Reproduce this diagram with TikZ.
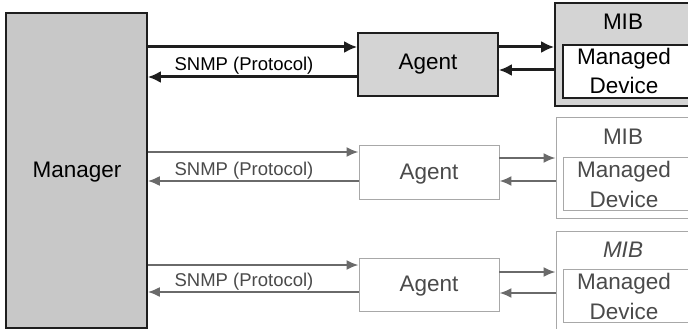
\documentclass[tikz,border=0pt]{standalone}
\usepackage{fontspec}
\setmainfont{Liberation Sans}
\usetikzlibrary{arrows.meta}
\definecolor{mgrfill}{HTML}{C8C8C8}
\definecolor{boxfill}{HTML}{D4D4D4}
\definecolor{darkline}{HTML}{1E1E1E}
\definecolor{fadeline}{HTML}{A8A8A8}
\definecolor{fadearrow}{HTML}{6A6A6A}
\definecolor{fadetext}{HTML}{4A4A4A}
\tikzset{
  big/.style={font=\fontsize{22.5}{24}\selectfont},
  small/.style={font=\fontsize{18.5}{20}\selectfont},
  boxA/.style={draw=darkline, line width=1.6pt, fill=boxfill, inner sep=0pt},
  boxB/.style={draw=fadeline, line width=0.9pt, fill=white, inner sep=0pt, text=fadetext},
  arrA/.style={draw=darkline, line width=3pt, -{Latex[length=13pt,width=12pt]}},
  arrB/.style={draw=fadearrow, line width=2pt, -{Latex[length=12pt,width=10pt]}},
  lbl/.style={inner sep=0pt, anchor=center},
}
\begin{document}
\begin{tikzpicture}[x=1pt,y=-1pt]
\useasboundingbox (0,0) rectangle (688,329);
\begin{scope}
\clip (0,0) rectangle (688,329);
% Manager
\node[boxA, fill=mgrfill, minimum width=141pt, minimum height=315pt] (mgr) at (76.5,170.5) {};
\node[big, lbl] (mgrt) at (77,172) {Manager};
% Row 1
\node[boxA, minimum width=140pt, minimum height=63pt] (ag1) at (428,64.5) {};
\node[big, lbl] (ag1t) at (428,64) {Agent};
\node[boxA, minimum width=140pt, minimum height=103pt] (mib1) at (625,54.5) {};
\node[boxA, fill=white, minimum width=132pt, minimum height=53pt] (dev1) at (629,71.5) {};
\node[big, lbl] (mib1t) at (623,22) {MIB};
\node[big, lbl] (dev1a) at (624,59) {Managed};
\node[big, lbl] (dev1b) at (624,85) {Device};
\draw[arrA] (mgr.east |- 0,47) -- (ag1.west |- 0,47);
\draw[arrA] (ag1.west |- 0,77) -- (mgr.east |- 0,77);
\node[small, lbl] (snmp1) at (244,66) {SNMP (Protocol)};
\draw[arrA] (ag1.east |- 0,47) -- (mib1.west |- 0,47);
\draw[arrA] (mib1.west |- 0,70) -- (ag1.east |- 0,70);
% Row 2
\node[boxB, minimum width=140pt, minimum height=54pt] (ag2) at (429,172) {};
\node[big, lbl, text=fadetext] (ag2t) at (429,174) {Agent};
\node[boxB, minimum width=140pt, minimum height=101pt] (mib2) at (626,167.5) {};
\node[boxB, minimum width=132pt, minimum height=53pt] (dev2) at (629,183.5) {};
\node[big, lbl, text=fadetext] (mib2t) at (623,137) {MIB};
\node[big, lbl, text=fadetext] (dev2a) at (624,172) {Managed};
\node[big, lbl, text=fadetext] (dev2b) at (624,199) {Device};
\draw[arrB] (mgr.east |- 0,152) -- (ag2.west |- 0,152);
\draw[arrB] (ag2.west |- 0,181) -- (mgr.east |- 0,181);
\node[small, lbl, text=fadetext] (snmp2) at (244,171) {SNMP (Protocol)};
\draw[arrB] (ag2.east |- 0,158) -- (mib2.west |- 0,158);
\draw[arrB] (mib2.west |- 0,181) -- (ag2.east |- 0,181);
% Row 3
\node[boxB, minimum width=140pt, minimum height=53pt] (ag3) at (429,284.5) {};
\node[big, lbl, text=fadetext] (ag3t) at (429,286) {Agent};
\node[boxB, minimum width=140pt, minimum height=99pt] (mib3) at (626,280.5) {};
\node[boxB, minimum width=132pt, minimum height=53pt] (dev3) at (629,295.5) {};
\node[big, lbl, text=fadetext, font=\fontsize{22.5}{24}\selectfont\itshape] (mib3t) at (623,250) {MIB};
\node[big, lbl, text=fadetext] (dev3a) at (624,284) {Managed};
\node[big, lbl, text=fadetext] (dev3b) at (624,311) {Device};
\draw[arrB] (mgr.east |- 0,265) -- (ag3.west |- 0,265);
\draw[arrB] (ag3.west |- 0,292) -- (mgr.east |- 0,292);
\node[small, lbl, text=fadetext] (snmp3) at (244,282) {SNMP (Protocol)};
\draw[arrB] (ag3.east |- 0,272) -- (mib3.west |- 0,272);
\draw[arrB] (mib3.west |- 0,293) -- (ag3.east |- 0,293);
\end{scope}
\end{tikzpicture}
\end{document}
